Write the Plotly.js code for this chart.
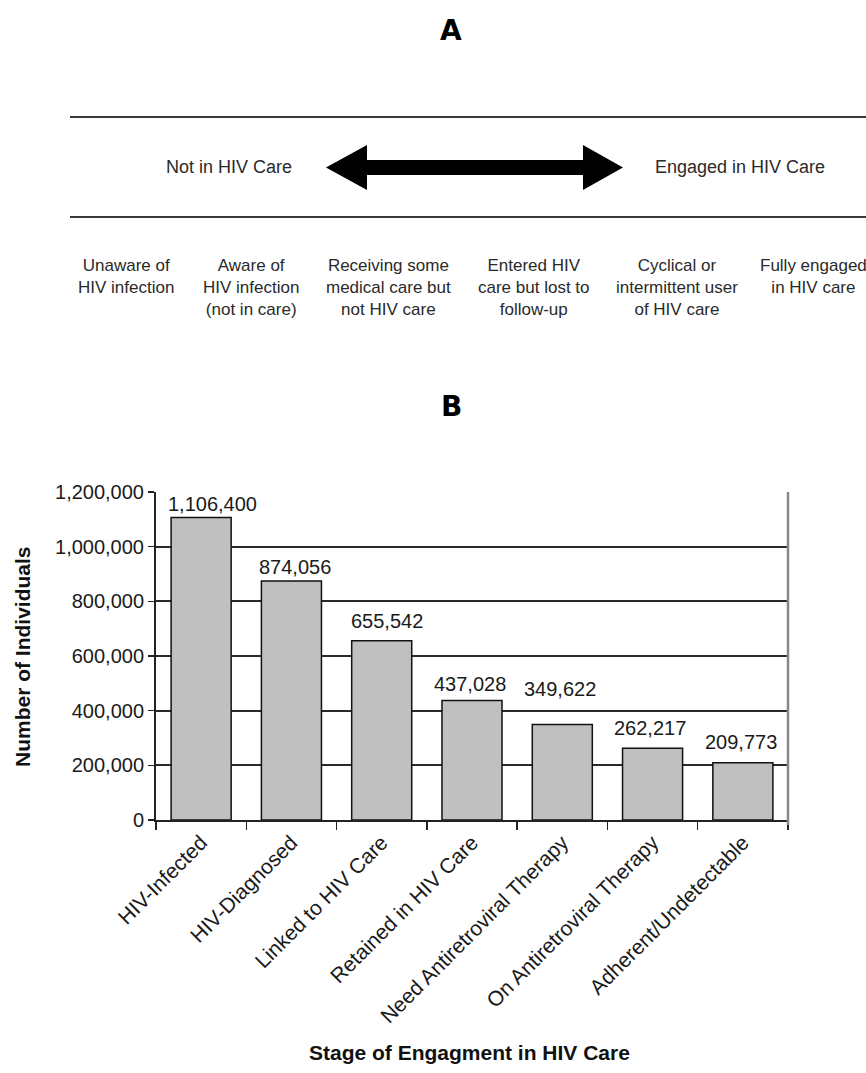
<!DOCTYPE html>
<html>
<head>
<meta charset="utf-8">
<script src="https://cdn.plot.ly/plotly-3.0.1.min.js"></script>
<style>html,body{margin:0;padding:0;background:#fff;}#chart{width:866px;height:1073px;}</style>
</head>
<body>
<div id="chart"></div>
<script>
// ---- Data ----
const stages = ['HIV-Infected','HIV-Diagnosed','Linked to HIV Care','Retained in HIV Care','Need Antiretroviral Therapy','On Antiretroviral Therapy','Adherent/Undetectable'];
const individuals = [1106400, 874056, 655542, 437028, 349622, 262217, 209773];
const yTickVals = [0, 200000, 400000, 600000, 800000, 1000000, 1200000];
const yTickText = ['0','200,000','400,000','600,000','800,000','1,000,000','1,200,000'];
const panelAHeadings = ['Not in HIV Care', 'Engaged in HIV Care'];
const panelAStages = ['Unaware of<br>HIV infection','Aware of<br>HIV infection<br>(not in care)','Receiving some<br>medical care but<br>not HIV care','Entered HIV<br>care but lost to<br>follow-up','Cyclical or<br>intermittent user<br>of HIV care','Fully engaged<br>in HIV care'];
const panelLabels = ['A', 'B'];
const xTitle = 'Stage of Engagment in HIV Care';
const yTitle = 'Number of Individuals';

// label placement tweaks (pixels, style only)
const labelDX = [11, 4, 5, -2, -2, -3, -2];
const labelDY = [1, 1, 7, 4, 22, 7, 8];

// ---- Layout helpers (pixel -> paper) ----
const W = 866, H = 1073;
const px = x => x / W;
const py = y => 1 - y / H;

const plotL = 156, plotR = 788, plotT = 492, plotB = 820;
const AF = 'Arial';

const trace = {
  type: 'bar',
  x: stages,
  y: individuals,
  marker: {color: '#c0c0c0', line: {color: '#111', width: 1.5}},
  hoverinfo: 'none'
};

const annotations = [];
// Value labels above bars
stages.forEach((s,i) => annotations.push({xref:'x', yref:'y', x: s, y: individuals[i],
  text: individuals[i].toLocaleString('en-US'), showarrow:false, xanchor:'center', yanchor:'bottom',
  xshift: labelDX[i], yshift: labelDY[i], font:{family:AF, size:20, color:'#1a1a1a'}}));
// Panel letters
annotations.push({xref:'paper', yref:'paper', x: px(451), y: py(30), text: panelLabels[0], showarrow:false,
  font:{family:'DejaVu Sans', size:28, color:'#000', weight:'bold'}, xanchor:'center', yanchor:'middle'});
annotations.push({xref:'paper', yref:'paper', x: px(451), y: py(406), text: panelLabels[1], showarrow:false,
  font:{family:'DejaVu Sans', size:28, color:'#000', weight:'bold'}, xanchor:'center', yanchor:'middle'});
// Panel A headings
const headX = [229, 740];
panelAHeadings.forEach((t,i) => annotations.push({xref:'paper', yref:'paper', x: px(headX[i]), y: py(167), text: t,
  showarrow:false, font:{family:AF, size:18, color:'#2a2a2a'}, xanchor:'center', yanchor:'middle'}));
// Panel A stage descriptions
const stageX = [126, 251, 388, 534, 677, 813];
panelAStages.forEach((t,i) => annotations.push({xref:'paper', yref:'paper', x: px(stageX[i]), y: py(254), text: t,
  showarrow:false, font:{family:AF, size:17, color:'#2a2a2a'}, xanchor:'center', yanchor:'top', align:'center'}));
// Axis titles
annotations.push({xref:'paper', yref:'paper', x: px(22), y: py(657), text: yTitle, textangle:-90, showarrow:false,
  font:{family:AF, size:21, color:'#111', weight:'bold'}, xanchor:'center', yanchor:'middle'});
annotations.push({xref:'paper', yref:'paper', x: px(469), y: py(1052), text: xTitle, showarrow:false,
  font:{family:AF, size:21, color:'#111', weight:'bold'}, xanchor:'center', yanchor:'middle'});

const arrowPath = [
  [326,167.5],[367,145],[367,160],[583,160],[583,145],[623,167.5],[583,190],[583,175],[367,175],[367,190]
].map((p,i) => (i===0?'M':'L') + px(p[0]).toFixed(5) + ',' + py(p[1]).toFixed(5)).join(' ') + ' Z';

const shapes = [
  {type:'line', xref:'paper', yref:'paper', x0: px(70), x1: 1, y0: py(117), y1: py(117), line:{color:'#3a3a3a', width:2.2}},
  {type:'line', xref:'paper', yref:'paper', x0: px(70), x1: 1, y0: py(217), y1: py(217), line:{color:'#3a3a3a', width:2.2}},
  {type:'path', xref:'paper', yref:'paper', path: arrowPath, fillcolor:'#000', line:{color:'#000', width:0}},
  // plot-area frame on the right
  {type:'line', xref:'paper', yref:'paper', x0: px(plotR), x1: px(plotR), y0: py(plotB+5), y1: py(plotT), line:{color:'#888', width:2.5}}
];

const layout = {
  width: W, height: H,
  margin: {l:0, r:0, t:0, b:0},
  paper_bgcolor: '#fff', plot_bgcolor: '#fff',
  showlegend: false,
  bargap: 0.335,
  xaxis: {
    domain: [px(plotL), px(plotR)],
    type: 'category',
    tickson: 'boundaries',
    ticks: 'outside', ticklen: 8, tickwidth: 1.5, tickcolor: '#222',
    tickangle: -45,
    tickfont: {family: AF, size: 21, color: '#1a1a1a'},
    showline: true, linecolor: '#222', linewidth: 2,
    showgrid: false,
    automargin: false,
    fixedrange: true
  },
  yaxis: {
    domain: [py(plotB), py(plotT)],
    range: [0, 1200000],
    tickvals: yTickVals, ticktext: yTickText,
    ticks: 'outside', ticklen: 6, tickwidth: 1.5, tickcolor: '#222',
    tickfont: {family: AF, size: 20, color: '#1a1a1a'},
    showline: true, linecolor: '#222', linewidth: 2,
    showgrid: true, gridcolor: '#2a2a2a', gridwidth: 1.8,
    zeroline: false,
    automargin: false,
    fixedrange: true
  },
  annotations: annotations,
  shapes: shapes
};

Plotly.newPlot('chart', [trace], layout, {displayModeBar: false, staticPlot: true});
</script>
</body>
</html>
